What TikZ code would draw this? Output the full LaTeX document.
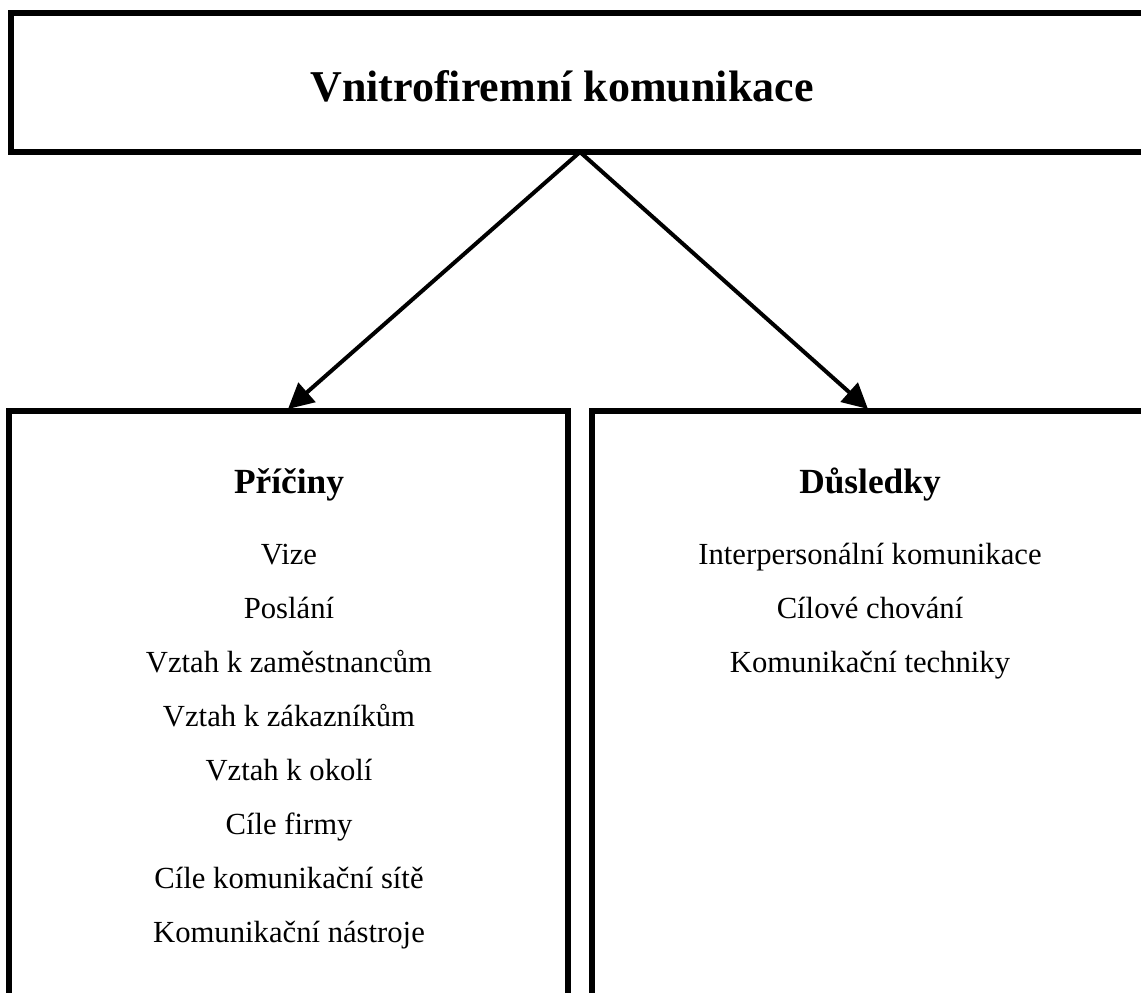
\documentclass[tikz,border=0pt]{standalone}
\usepackage{fontspec}
\setmainfont{Liberation Serif}
\usetikzlibrary{arrows.meta}
\tikzset{
  frame/.style={draw=black, line width=4.5pt, rectangle, inner sep=0pt, outer sep=0pt, anchor=north west},
  arr/.style={line width=3pt, -{Triangle[length=19pt, width=19pt]}},
  titletext/.style={anchor=base, inner sep=0pt, font=\fontsize{33pt}{36pt}\selectfont\bfseries},
  headtext/.style={anchor=base, inner sep=0pt, font=\fontsize{26.5pt}{30pt}\selectfont\bfseries},
  itemtext/.style={anchor=base, inner sep=0pt, font=\fontsize{23pt}{26pt}\selectfont},
}
\begin{document}
\begin{tikzpicture}[x=0.75pt, y=-0.75pt]
  \useasboundingbox (0,0) rectangle (1141,992);
  \clip (0,0) rectangle (1141,992);

  % frames
  \node[frame, minimum width=869.25pt, minimum height=104.25pt] (top) at (11,13) {};
  \node[frame, minimum width=419.25pt, minimum height=456.75pt] (left) at (9,411) {};
  \node[frame, minimum width=433.5pt, minimum height=456.75pt] (right) at (592,411) {};

  % title
  \node[titletext] (title) at (562,101) {Vnitrofiremní komunikace};

  % connectors
  \coordinate (apex) at (580,152);
  \coordinate (ltip) at (288,409);
  \coordinate (rtip) at (868,409);
  \draw[arr] (apex) -- (ltip);
  \draw[arr] (apex) -- (rtip);

  % causes
  \node[headtext] (hl) at (289,493) {Příčiny};
  \node[itemtext] (l1) at (289,564) {Vize};
  \node[itemtext] (l2) at (289,618) {Poslání};
  \node[itemtext] (l3) at (289,672) {Vztah k zaměstnancům};
  \node[itemtext] (l4) at (289,726) {Vztah k zákazníkům};
  \node[itemtext] (l5) at (289,780) {Vztah k okolí};
  \node[itemtext] (l6) at (289,834) {Cíle firmy};
  \node[itemtext] (l7) at (289,888) {Cíle komunikační sítě};
  \node[itemtext] (l8) at (289,942) {Komunikační nástroje};

  % consequences
  \node[headtext] (hr) at (870,493) {Důsledky};
  \node[itemtext] (r1) at (870,564) {Interpersonální komunikace};
  \node[itemtext] (r2) at (870,618) {Cílové chování};
  \node[itemtext] (r3) at (870,672) {Komunikační techniky};
\end{tikzpicture}
\end{document}
